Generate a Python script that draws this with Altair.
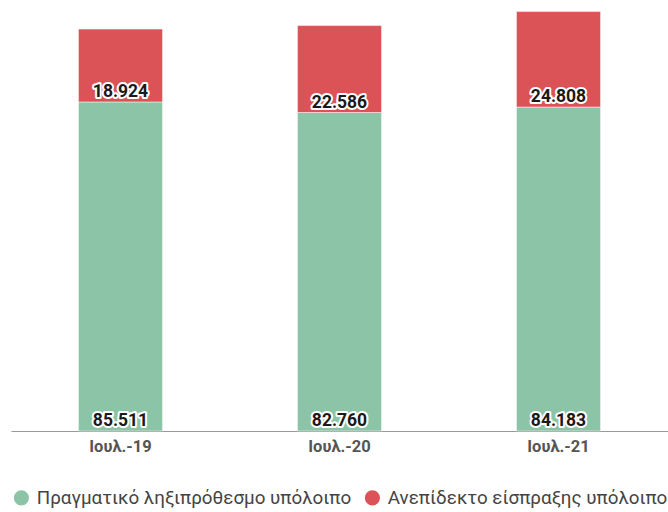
import altair as alt
import pandas as pd

months = ["Ιουλ.-19", "Ιουλ.-20", "Ιουλ.-21"]
overdue = [85511, 82760, 84183]
uncollectable = [18924, 22586, 24808]
series = ["Πραγματικό ληξιπρόθεσμο υπόλοιπο", "Ανεπίδεκτο είσπραξης υπόλοιπο"]
colors = ["#8CC4A7", "#DB5257"]

rows = []
for m, a, b in zip(months, overdue, uncollectable):
    rows.append({"month": m, "series": series[0], "value": a, "order": 0,
                 "base": 0, "label": f"{a:,}".replace(",", ".")})
    rows.append({"month": m, "series": series[1], "value": b, "order": 1,
                 "base": a, "label": f"{b:,}".replace(",", ".")})
df = pd.DataFrame(rows)

xscale = alt.Scale(paddingInner=0.616, paddingOuter=0.308)
x = alt.X("month:N", sort=months, title=None, scale=xscale,
          axis=alt.Axis(labelAngle=0, labelFont="Roboto", labelFontSize=16.5,
                        labelFontWeight="bold", labelColor="#555555",
                        labelPadding=7, domainColor="#999999", ticks=False,
                        grid=False))
yscale = alt.Scale(domain=[0, 112000], nice=False, zero=True)

bars = alt.Chart(df).mark_bar(stroke="white", strokeWidth=0.5).encode(
    x=x,
    y=alt.Y("value:Q", stack="zero", scale=yscale, axis=None),
    color=alt.Color("series:N", scale=alt.Scale(domain=series, range=colors),
                    legend=alt.Legend(orient="none", legendX=1, legendY=488,
                                      direction="horizontal", title=None,
                                      symbolType="circle", symbolSize=230,
                                      symbolStrokeWidth=0, labelFont="Roboto",
                                      labelFontSize=18.8, labelColor="#444444",
                                      labelLimit=0, columnPadding=11,
                                      labelOffset=6)),
    order=alt.Order("order:Q"),
)

text_base = alt.Chart(df).encode(
    x=alt.X("month:N", sort=months, scale=xscale),
    y=alt.Y("base:Q", scale=yscale),
    text="label:N",
)
halo = text_base.mark_text(font="Roboto", fontSize=17.5, fontWeight="bold",
                           baseline="alphabetic", dy=-5, stroke="white",
                           strokeWidth=4, strokeJoin="round", fill="white")
labels = text_base.mark_text(font="Roboto", fontSize=17.5, fontWeight="bold",
                             baseline="alphabetic", dy=-5, color="#1a1a1a")

chart = alt.layer(bars, halo, labels).properties(
    width=657, height=431,
    autosize=alt.AutoSizeParams(type="none"),
    padding={"left": 11, "top": 0, "right": 0, "bottom": 81},
).configure_view(stroke=None)

chart.save("out.html", embed_options={"renderer": "svg", "actions": False})
